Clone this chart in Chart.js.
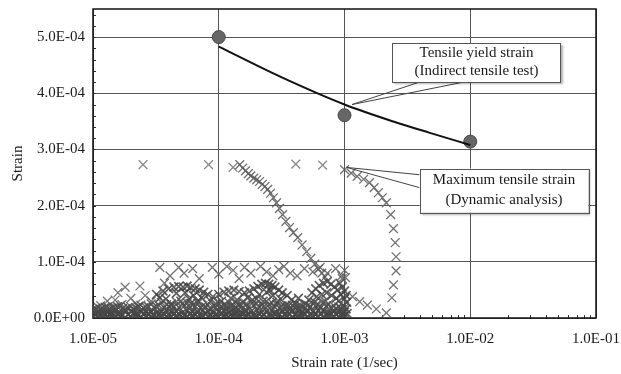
<!DOCTYPE html>
<html>
<head>
<meta charset="utf-8">
<script src="https://cdn.jsdelivr.net/npm/chart.js@4/dist/chart.umd.min.js"></script>
<style>
  body { margin: 0; background: #fff; }
  canvas { display: block; }
</style>
</head>
<body>
<canvas id="canvas" width="621" height="374"></canvas>
<script>
// axis ticks
var xTickValues = [1e-5, 1e-4, 1e-3, 1e-2, 1e-1];
var yTickValues = [0, 1e-4, 2e-4, 3e-4, 4e-4, 5e-4];

// tensile yield strain (indirect tensile test) - measured points
var yieldRate   = [1e-4, 1e-3, 1e-2];
var yieldStrain = [5.0e-4, 3.61e-4, 3.14e-4];

// fitted curve through the yield strain
var fitRate   = [1e-4, 3.05e-4, 1e-3, 2.58e-3, 4.7e-3, 1e-2];
var fitStrain = [4.83e-4, 4.30e-4, 3.80e-4, 3.48e-4, 3.30e-4, 3.08e-4];

// maximum tensile strain (dynamic analysis)
var peakRate   = [2.5e-5, 8.3e-5, 1.3e-4, 4.1e-4, 6.7e-4];
var peakStrain = [2.73e-4, 2.73e-4, 2.68e-4, 2.74e-4, 2.72e-4];

var curveARate   = [1.47e-4,1.55e-4,1.63e-4,1.72e-4,1.80e-4,1.90e-4,2.00e-4,2.11e-4,2.22e-4,2.33e-4,2.45e-4,2.58e-4,2.72e-4,2.88e-4,
                    3.04e-4,3.22e-4,3.42e-4,3.66e-4,3.92e-4,4.25e-4,4.60e-4,5.00e-4,5.40e-4,5.80e-4,6.20e-4,6.60e-4,7.00e-4];
var curveAStrain = [2.73e-4,2.67e-4,2.62e-4,2.57e-4,2.53e-4,2.49e-4,2.46e-4,2.43e-4,2.38e-4,2.34e-4,2.29e-4,2.22e-4,2.14e-4,2.05e-4,
                    1.95e-4,1.84e-4,1.72e-4,1.61e-4,1.52e-4,1.43e-4,1.30e-4,1.18e-4,1.06e-4,0.96e-4,0.87e-4,0.80e-4,0.73e-4];

var curveBRate   = [1.00e-3,1.13e-3,1.26e-3,1.42e-3,1.58e-3,1.72e-3,1.86e-3,2.00e-3,2.15e-3,2.33e-3,2.45e-3,2.53e-3,2.57e-3,2.57e-3,
                    2.45e-3,2.38e-3,2.15e-3,1.79e-3,1.52e-3,1.32e-3,1.16e-3];
var curveBStrain = [2.64e-4,2.58e-4,2.52e-4,2.47e-4,2.41e-4,2.32e-4,2.23e-4,2.14e-4,2.05e-4,1.84e-4,1.59e-4,1.34e-4,1.09e-4,0.84e-4,
                    0.59e-4,0.36e-4,0.09e-4,0.16e-4,0.23e-4,0.29e-4,0.38e-4];

// dense band near zero strain (two interleaved rate lists)
var bandRate = [1.0e-5,1.1e-5,1.2e-5,1.3e-5,1.4e-5,1.5e-5,1.65e-5,1.8e-5,2.0e-5,2.2e-5,2.4e-5,2.65e-5,2.9e-5,3.2e-5,3.5e-5,3.85e-5,
                4.2e-5,4.6e-5,5.1e-5,5.6e-5,6.2e-5,6.8e-5,7.5e-5,8.2e-5,9.0e-5,
                1.0e-4,1.1e-4,1.2e-4,1.3e-4,1.4e-4,1.5e-4,1.65e-4,1.8e-4,2.0e-4,2.2e-4,2.4e-4,2.65e-4,2.9e-4,3.2e-4,3.5e-4,3.85e-4,
                4.2e-4,4.6e-4,5.1e-4,5.6e-4,6.2e-4,6.8e-4,7.5e-4,8.2e-4,9.0e-4,1.0e-3];
var bandLow  = [2e-6,4e-6,1e-6,3e-6,5e-6,2e-6,4e-6,1e-6,3e-6,5e-6,2e-6,4e-6,3e-6,1e-6,5e-6,3e-6,
                2e-6,4e-6,1e-6,3e-6,5e-6,2e-6,4e-6,3e-6,1e-6,
                3e-6,5e-6,2e-6,4e-6,1e-6,3e-6,5e-6,2e-6,4e-6,3e-6,1e-6,5e-6,3e-6,2e-6,4e-6,1e-6,
                3e-6,5e-6,2e-6,4e-6,3e-6,1e-6,5e-6,3e-6,2e-6,4e-6];
var bandMid  = [9e-6,1.2e-5,8e-6,1.1e-5,1.0e-5,1.3e-5,9e-6,1.2e-5,1.1e-5,8e-6,1.3e-5,1.0e-5,1.2e-5,9e-6,1.1e-5,1.4e-5,
                1.0e-5,1.2e-5,9e-6,1.3e-5,1.1e-5,1.0e-5,1.4e-5,1.2e-5,9e-6,
                1.1e-5,1.3e-5,1.0e-5,1.4e-5,1.2e-5,9e-6,1.3e-5,1.1e-5,1.5e-5,1.0e-5,1.2e-5,1.4e-5,9e-6,1.3e-5,1.1e-5,1.2e-5,
                1.5e-5,1.0e-5,1.3e-5,1.1e-5,1.4e-5,1.2e-5,9e-6,1.3e-5,1.1e-5,1.0e-5];
var bandHigh = [1.6e-5,1.9e-5,1.5e-5,2.0e-5,1.7e-5,1.8e-5,2.2e-5,1.6e-5,2.0e-5,1.8e-5,2.3e-5,1.9e-5,2.5e-5,2.1e-5,2.8e-5,2.4e-5,
                2.2e-5,2.9e-5,2.5e-5,2.7e-5,2.3e-5,2.6e-5,2.2e-5,2.4e-5,2.0e-5,
                2.6e-5,2.2e-5,2.8e-5,2.4e-5,2.7e-5,2.1e-5,2.5e-5,2.9e-5,2.6e-5,2.3e-5,3.0e-5,2.7e-5,2.4e-5,2.1e-5,1.9e-5,2.3e-5,
                2.0e-5,1.8e-5,2.2e-5,2.6e-5,2.4e-5,2.8e-5,2.5e-5,2.2e-5,2.0e-5,1.8e-5];
var bandRateB = [1.05e-5,1.15e-5,1.25e-5,1.35e-5,1.45e-5,1.57e-5,1.72e-5,1.9e-5,2.1e-5,2.3e-5,2.52e-5,2.77e-5,3.05e-5,3.35e-5,
                 3.67e-5,4.02e-5,4.4e-5,4.85e-5,5.35e-5,5.9e-5,6.5e-5,7.15e-5,7.85e-5,8.6e-5,9.5e-5,
                 1.05e-4,1.15e-4,1.25e-4,1.35e-4,1.45e-4,1.57e-4,1.72e-4,1.9e-4,2.1e-4,2.3e-4,2.52e-4,2.77e-4,3.05e-4,3.35e-4,
                 3.67e-4,4.02e-4,4.4e-4,4.85e-4,5.35e-4,5.9e-4,6.5e-4,7.15e-4,7.85e-4,8.6e-4,9.5e-4];
var bandLowB  = [6e-6,5e-6,7e-6,6e-6,4e-6,7e-6,5e-6,6e-6,8e-6,5e-6,7e-6,6e-6,4e-6,7e-6,6e-6,5e-6,8e-6,6e-6,5e-6,7e-6,
                 6e-6,4e-6,7e-6,5e-6,6e-6,
                 7e-6,5e-6,6e-6,8e-6,5e-6,7e-6,6e-6,4e-6,7e-6,6e-6,5e-6,8e-6,6e-6,5e-6,7e-6,6e-6,4e-6,7e-6,5e-6,6e-6,
                 8e-6,5e-6,7e-6,6e-6,4e-6];
var bandHighB = [1.7e-5,1.5e-5,1.9e-5,1.6e-5,1.8e-5,2.0e-5,1.7e-5,1.9e-5,1.6e-5,2.1e-5,1.8e-5,2.0e-5,1.9e-5,2.2e-5,
                 1.9e-5,2.1e-5,2.0e-5,1.8e-5,2.2e-5,1.9e-5,2.1e-5,1.8e-5,2.0e-5,1.7e-5,1.9e-5,
                 2.0e-5,1.8e-5,2.1e-5,1.9e-5,2.2e-5,1.8e-5,2.0e-5,2.3e-5,1.9e-5,2.1e-5,2.4e-5,2.0e-5,1.8e-5,2.1e-5,1.7e-5,
                 1.9e-5,1.6e-5,1.8e-5,2.0e-5,2.2e-5,1.9e-5,2.1e-5,1.8e-5,1.6e-5,1.5e-5];

// scattered clusters [rate, strain]
var sparseLeft = [[1.15e-5,0.22e-4],[1.3e-5,0.30e-4],[1.5e-5,0.32e-4],[1.58e-5,0.45e-4],[1.7e-5,0.24e-4],[1.8e-5,0.55e-4],
                  [2.0e-5,0.35e-4],[2.2e-5,0.25e-4],[2.36e-5,0.57e-4],[2.6e-5,0.40e-4],[2.9e-5,0.30e-4]];
var sparseTop  = [[3.4e-5,0.90e-4],[3.7e-5,0.62e-4],[4.1e-5,0.75e-4],[4.8e-5,0.90e-4],[5.3e-5,0.80e-4],[6.2e-5,0.88e-4],
                  [7.0e-5,0.70e-4],[8.9e-5,0.90e-4],[1.0e-4,0.78e-4],[1.16e-4,0.92e-4],[1.3e-4,0.85e-4],[1.45e-4,0.70e-4],
                  [1.6e-4,0.90e-4],[1.8e-4,0.80e-4],[2.15e-4,0.92e-4],[2.4e-4,0.82e-4],[2.7e-4,0.75e-4],[3.0e-4,0.86e-4],
                  [3.3e-4,0.92e-4],[3.7e-4,0.80e-4],[4.2e-4,0.75e-4],[4.8e-4,0.88e-4],[5.6e-4,0.82e-4],[6.4e-4,0.90e-4],
                  [7.3e-4,0.80e-4],[8.5e-4,0.88e-4],[9.5e-4,0.75e-4],[1.0e-3,0.85e-4],[1.02e-3,0.72e-4],[9.6e-4,0.70e-4]];
var humpA = [[3.2e-5,0.42e-4],[3.6e-5,0.48e-4],[4.0e-5,0.52e-4],[4.4e-5,0.55e-4],[4.8e-5,0.56e-4],[5.2e-5,0.55e-4],
             [5.6e-5,0.57e-4],[6.0e-5,0.54e-4],[6.5e-5,0.52e-4],[7.0e-5,0.50e-4],[7.6e-5,0.46e-4],[8.2e-5,0.42e-4],
             [4.6e-5,0.44e-4],[5.4e-5,0.45e-4],[6.3e-5,0.40e-4],[7.3e-5,0.36e-4],[3.8e-5,0.34e-4],[5.0e-5,0.30e-4],
             [6.0e-5,0.26e-4],[4.2e-5,0.25e-4],[3.4e-5,0.36e-4],[5.8e-5,0.34e-4],[6.8e-5,0.30e-4]];
var humpB = [[9.0e-5,0.38e-4],[1.0e-4,0.42e-4],[1.1e-4,0.46e-4],[1.2e-4,0.48e-4],[1.32e-4,0.50e-4],[1.45e-4,0.47e-4],
             [1.6e-4,0.45e-4],[1.75e-4,0.48e-4],[1.9e-4,0.52e-4],[1.05e-4,0.30e-4],[1.25e-4,0.35e-4],[1.4e-4,0.32e-4],
             [1.7e-4,0.36e-4],[9.5e-5,0.25e-4],[1.15e-4,0.22e-4],[1.55e-4,0.28e-4],[1.85e-4,0.32e-4],[8.6e-5,0.30e-4]];
var humpC = [[2.05e-4,0.56e-4],[2.2e-4,0.60e-4],[2.35e-4,0.62e-4],[2.5e-4,0.60e-4],[2.65e-4,0.58e-4],[2.8e-4,0.55e-4],
             [3.0e-4,0.50e-4],[3.2e-4,0.45e-4],[2.1e-4,0.42e-4],[2.4e-4,0.46e-4],[2.7e-4,0.40e-4],[3.1e-4,0.34e-4],
             [2.25e-4,0.30e-4],[2.9e-4,0.28e-4],[3.5e-4,0.40e-4],[3.8e-4,0.32e-4],[4.1e-4,0.26e-4],[4.5e-4,0.22e-4],
             [4.9e-4,0.25e-4],[3.6e-4,0.22e-4],[4.3e-4,0.35e-4],[5.2e-4,0.32e-4],[2.55e-4,0.50e-4],[2.0e-4,0.34e-4]];
var humpD = [[5.5e-4,0.45e-4],[5.9e-4,0.52e-4],[6.3e-4,0.58e-4],[6.8e-4,0.62e-4],[7.3e-4,0.65e-4],[7.8e-4,0.60e-4],
             [8.3e-4,0.55e-4],[8.8e-4,0.50e-4],[6.0e-4,0.38e-4],[6.6e-4,0.42e-4],[7.2e-4,0.45e-4],[7.9e-4,0.40e-4],
             [8.6e-4,0.35e-4],[5.8e-4,0.28e-4],[7.0e-4,0.30e-4],[9.2e-4,0.62e-4],[9.6e-4,0.55e-4],[1.0e-3,0.48e-4],
             [1.03e-3,0.40e-4],[9.4e-4,0.42e-4],[1.0e-3,0.34e-4],[1.04e-3,0.28e-4],[9.0e-4,0.30e-4],[9.8e-4,0.22e-4],
             [1.03e-3,0.16e-4],[9.3e-4,0.18e-4],[1.05e-3,0.08e-4],[9.7e-4,0.10e-4]];

var FONT = 'Liberation Serif, Times New Roman, serif';

function zip(xs, ys) {
    var out = [];
    for (var i = 0; i < xs.length; i++) out.push({x: xs[i], y: ys[i]});
    return out;
}
function pairs(list) {
    return list.map(function(p){ return {x: p[0], y: p[1]}; });
}
function fmtExp(v) {
    var s = Number(v).toExponential(1).toUpperCase();
    return s.replace(/E([+-])(\d+)$/, function(m, sign, d){ return 'E' + sign + (d.length < 2 ? '0' + d : d); });
}
function crosses(data, color, width) {
    return {
        type: 'scatter', data: data, pointStyle: 'crossRot', pointRadius: 6.2,
        borderColor: color, backgroundColor: color, borderWidth: width || 1.3, pointHoverRadius: 6.2
    };
}

var callouts = [
    { lines: ['Tensile yield strain', '(Indirect tensile test)'],
      box: [2.4e-3, 4.89e-4, 5.25e-2, 4.2e-4],
      tip: [1.15e-3, 3.80e-4], base: [[3.96e-3, 4.2e-4], [8.9e-3, 4.2e-4]] },
    { lines: ['Maximum tensile strain', '(Dynamic analysis)'],
      box: [3.96e-3, 2.66e-4, 8.7e-2, 1.875e-4],
      tip: [1.04e-3, 2.68e-4], base: [[3.96e-3, 2.55e-4], [3.96e-3, 2.32e-4]] }
];

var decorPlugin = {
    id: 'decor',
    beforeDraw: function(chart) {
        var ctx = chart.ctx;
        ctx.save();
        ctx.fillStyle = '#fff';
        ctx.fillRect(0, 0, chart.width, chart.height);
        ctx.restore();
    },
    beforeDatasetsDraw: function(chart) {
        var ctx = chart.ctx, a = chart.chartArea, xs = chart.scales.x, ys = chart.scales.y;
        ctx.save();
        ctx.strokeStyle = '#333';
        ctx.lineWidth = 1;
        ctx.beginPath();
        // minor ticks on the y axis
        for (var v = 2e-5; v < 5.5e-4; v += 2e-5) {
            var py = Math.round(ys.getPixelForValue(v)) + 0.5;
            ctx.moveTo(a.left, py); ctx.lineTo(a.left + 3, py);
        }
        // minor ticks on the log x axis
        for (var e = -5; e < -1; e++) {
            for (var k = 2; k < 10; k++) {
                var px = Math.round(xs.getPixelForValue(k * Math.pow(10, e))) + 0.5;
                ctx.moveTo(px, a.bottom); ctx.lineTo(px, a.bottom - 3);
            }
        }
        ctx.stroke();
        ctx.strokeStyle = '#111';
        ctx.lineWidth = 1.5;
        ctx.strokeRect(a.left, a.top, a.right - a.left, a.bottom - a.top);
        ctx.restore();
    },
    afterDraw: function(chart) {
        var ctx = chart.ctx, xs = chart.scales.x, ys = chart.scales.y;
        ctx.save();
        callouts.forEach(function(c) {
            var l = xs.getPixelForValue(c.box[0]), t = ys.getPixelForValue(c.box[1]);
            var r = xs.getPixelForValue(c.box[2]), b = ys.getPixelForValue(c.box[3]);
            var tx = xs.getPixelForValue(c.tip[0]), ty = ys.getPixelForValue(c.tip[1]);
            ctx.strokeStyle = '#444';
            ctx.lineWidth = 1;
            ctx.beginPath();
            c.base.forEach(function(p) {
                ctx.moveTo(tx, ty);
                ctx.lineTo(xs.getPixelForValue(p[0]), ys.getPixelForValue(p[1]));
            });
            ctx.stroke();
            ctx.save();
            ctx.shadowColor = 'rgba(0,0,0,0.3)';
            ctx.shadowOffsetX = 2;
            ctx.shadowOffsetY = 2;
            ctx.shadowBlur = 2;
            ctx.fillStyle = '#fff';
            ctx.fillRect(l, t, r - l, b - t);
            ctx.restore();
            ctx.strokeStyle = '#555';
            ctx.strokeRect(Math.round(l) + 0.5, Math.round(t) + 0.5, Math.round(r - l), Math.round(b - t));
            ctx.fillStyle = '#1a1a1a';
            ctx.font = '15px ' + FONT;
            ctx.textAlign = 'center';
            ctx.textBaseline = 'middle';
            var h = b - t;
            ctx.fillText(c.lines[0], (l + r) / 2, t + h * 0.25);
            ctx.fillText(c.lines[1], (l + r) / 2, t + h * 0.72);
        });
        ctx.restore();
    }
};

var tickFont = {family: FONT, size: 15};

new Chart(document.getElementById('canvas').getContext('2d'), {
    data: {
        datasets: [
            crosses(zip(bandRate, bandLow), 'rgba(70,70,70,0.95)', 1.7),
            crosses(zip(bandRateB, bandLowB), 'rgba(72,72,72,0.95)', 1.7),
            crosses(zip(bandRate, bandMid), 'rgba(75,75,75,0.9)', 1.6),
            crosses(zip(bandRateB, bandHighB), 'rgba(78,78,78,0.9)', 1.6),
            crosses(zip(bandRate, bandHigh), 'rgba(85,85,85,0.85)', 1.4),
            crosses(pairs(sparseLeft), 'rgba(95,95,95,0.85)'),
            crosses(pairs(sparseTop), 'rgba(90,90,90,0.85)'),
            crosses(pairs(humpA), 'rgba(65,65,65,0.85)', 1.7),
            crosses(pairs(humpB), 'rgba(70,70,70,0.85)', 1.7),
            crosses(pairs(humpC), 'rgba(65,65,65,0.85)', 1.7),
            crosses(pairs(humpD), 'rgba(70,70,70,0.85)', 1.7),
            crosses(zip(curveARate, curveAStrain), 'rgba(95,95,95,0.9)'),
            crosses(zip(curveBRate, curveBStrain), 'rgba(100,100,100,0.9)'),
            crosses(zip(peakRate, peakStrain), 'rgba(125,125,125,0.9)'),
            {
                type: 'line', data: zip(fitRate, fitStrain), borderColor: '#111', borderWidth: 2,
                pointRadius: 0, fill: false, cubicInterpolationMode: 'monotone'
            },
            {
                type: 'scatter', data: zip(yieldRate, yieldStrain), pointStyle: 'circle', pointRadius: 6.5,
                backgroundColor: '#666', borderColor: '#4a4a4a', borderWidth: 1, pointHoverRadius: 6.5
            }
        ]
    },
    options: {
        responsive: false,
        animation: false,
        events: [],
        layout: {padding: {top: 9, right: 25, left: 0, bottom: 0}},
        plugins: {legend: {display: false}, tooltip: {enabled: false}},
        scales: {
            x: {
                type: 'logarithmic', min: 1e-5, max: 1e-1,
                afterBuildTicks: function(s) { s.ticks = xTickValues.map(function(v){ return {value: v}; }); },
                afterFit: function(s) { s.height = 56; s.paddingLeft = 0; s.paddingRight = 0; },
                grid: {color: '#555', lineWidth: 1, drawTicks: false},
                border: {display: false},
                ticks: {font: tickFont, color: '#1a1a1a', padding: 12, maxRotation: 0, autoSkip: false, callback: fmtExp},
                title: {display: true, text: 'Strain rate (1/sec)', font: tickFont, color: '#1a1a1a', padding: {top: 0, bottom: 2}}
            },
            y: {
                type: 'linear', min: 0, max: 5.5e-4,
                afterBuildTicks: function(s) { s.ticks = yTickValues.map(function(v){ return {value: v}; }); },
                afterFit: function(s) { s.width = 93; s.paddingTop = 0; s.paddingBottom = 0; },
                grid: {color: '#555', lineWidth: 1, drawTicks: false},
                border: {display: false},
                ticks: {font: tickFont, color: '#1a1a1a', padding: 8, callback: fmtExp},
                title: {display: true, text: 'Strain', font: tickFont, color: '#1a1a1a', padding: {top: 9, bottom: 0}}
            }
        }
    },
    plugins: [decorPlugin]
});
</script>
</body>
</html>
